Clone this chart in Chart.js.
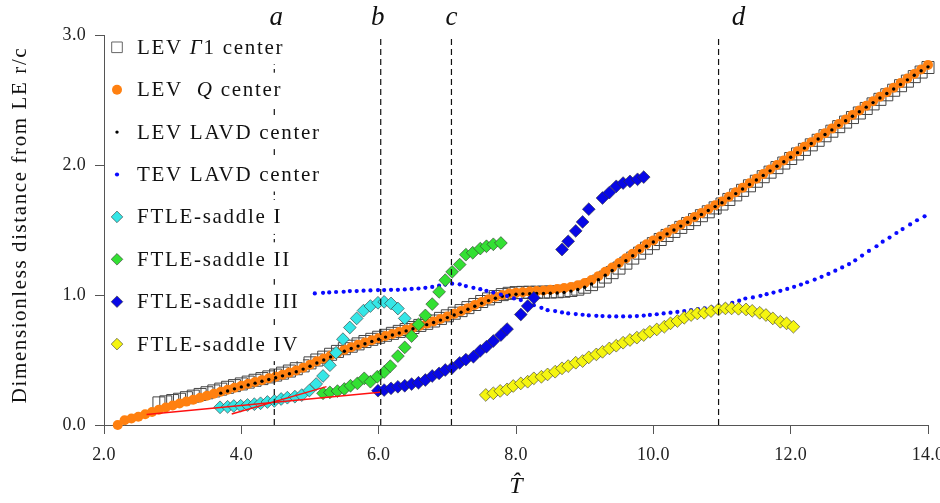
<!DOCTYPE html>
<html><head><meta charset="utf-8">
<script src="https://cdn.jsdelivr.net/npm/chart.js@4.4.1/dist/chart.umd.min.js"></script>
<style>html,body{margin:0;padding:0;background:#fff;}#wrap{width:940px;height:503px;position:relative;}</style>
</head><body><div id="wrap"><canvas id="c" width="940" height="503"></canvas></div>
<script>
// ---- shared time grid (T-hat) for the LEV centre series ----
const tGrid = [2.2,2.3,2.4,2.5,2.6,2.7,2.8,2.9,3.0,3.1,3.2,3.3,3.4,3.5,3.6,3.7,3.8,3.9,4.0,4.1,4.2,4.3,4.4,4.5,4.6,4.7,4.8,4.9,
5.0,5.1,5.2,5.3,5.4,5.5,5.6,5.7,5.8,5.9,6.0,6.1,6.2,6.3,6.4,6.5,6.6,6.7,6.8,6.9,7.0,7.1,7.2,7.3,7.4,7.5,7.6,7.7,7.8,7.9,
8.0,8.1,8.2,8.3,8.4,8.5,8.6,8.7,8.8,8.9,9.0,9.1,9.2,9.3,9.4,9.5,9.6,9.7,9.8,9.9,10.0,10.1,10.2,10.3,10.4,10.5,10.6,10.7,10.8,10.9,
11.0,11.1,11.2,11.3,11.4,11.5,11.6,11.7,11.8,11.9,12.0,12.1,12.2,12.3,12.4,12.5,12.6,12.7,12.8,12.9,13.0,13.1,13.2,13.3,13.4,13.5,13.6,13.7,13.8,13.9,14.0];

// LEV Gamma1 centre (open squares)
const gammaV = [null,null,null,null,null,null,0.170,0.178,0.188,0.198,0.210,0.222,0.235,0.248,0.262,0.276,0.290,0.303,0.316,0.330,0.344,0.357,0.370,0.384,0.399,0.415,0.433,0.455,
0.478,0.500,0.522,0.544,0.566,0.587,0.606,0.624,0.642,0.659,0.675,0.690,0.705,0.720,0.735,0.750,0.766,0.782,0.800,0.820,0.840,0.860,0.880,0.903,0.927,0.950,0.970,0.988,1.003,1.013,
1.018,1.020,1.021,1.021,1.022,1.023,1.025,1.029,1.035,1.045,1.060,1.080,1.107,1.138,1.172,1.207,1.245,1.284,1.322,1.360,1.395,1.427,1.458,1.489,1.520,1.550,1.580,1.610,1.640,1.670,
1.700,1.735,1.770,1.805,1.840,1.875,1.910,1.945,1.980,2.015,2.050,2.085,2.120,2.155,2.190,2.225,2.260,2.295,2.330,2.365,2.400,2.435,2.470,2.505,2.540,2.575,2.610,2.645,2.680,2.715,2.750];

// LEV Q centre (orange dots)
const qV = [0.000,0.036,0.050,0.064,0.083,0.100,0.118,0.134,0.150,0.165,0.180,0.195,0.210,0.225,0.240,0.256,0.272,0.287,0.302,0.317,0.331,0.345,0.359,0.372,0.387,0.403,0.420,0.440,
0.463,0.490,0.512,0.535,0.557,0.578,0.598,0.617,0.635,0.652,0.668,0.684,0.700,0.716,0.732,0.748,0.764,0.780,0.797,0.815,0.835,0.855,0.876,0.899,0.923,0.946,0.967,0.986,1.000,1.012,
1.018,1.022,1.026,1.030,1.035,1.040,1.046,1.053,1.062,1.075,1.092,1.115,1.145,1.178,1.212,1.246,1.282,1.318,1.354,1.390,1.420,1.450,1.480,1.510,1.540,1.570,1.600,1.630,1.660,1.690,
1.720,1.755,1.790,1.825,1.860,1.895,1.930,1.965,2.000,2.035,2.070,2.105,2.140,2.175,2.210,2.245,2.280,2.315,2.350,2.385,2.420,2.455,2.490,2.525,2.560,2.595,2.630,2.665,2.700,2.735,2.770];

// LEV LAVD centre (black dots)
const lavdV = [null,null,null,null,null,null,null,null,null,null,null,null,null,null,null,0.245,0.262,0.278,0.293,0.308,0.322,0.336,0.350,0.364,0.378,0.394,0.410,0.430,
0.452,0.477,0.500,0.524,0.546,0.567,0.588,0.607,0.625,0.643,0.660,0.676,0.692,0.708,0.724,0.740,0.756,0.772,0.789,0.807,0.826,0.846,0.867,0.890,0.913,0.936,0.957,0.975,0.990,1.000,
1.006,1.009,1.010,1.011,1.012,1.013,1.015,1.020,1.030,1.042,1.060,1.085,1.118,1.152,1.188,1.225,1.263,1.302,1.340,1.375,1.408,1.440,1.470,1.500,1.530,1.560,1.590,1.620,1.650,1.680,
1.710,1.745,1.780,1.815,1.850,1.885,1.920,1.955,1.990,2.025,2.060,2.095,2.130,2.165,2.200,2.235,2.270,2.305,2.340,2.375,2.410,2.445,2.480,2.515,2.550,2.585,2.620,2.655,2.690,2.725,2.755];

// TEV LAVD centre (small blue dots)
const tevT = [5.07,5.19,5.28,5.38,5.49,5.58,5.68,5.78,5.88,5.99,6.08,6.18,6.28,6.38,6.48,6.58,6.68,6.78,6.88,6.97,7.07,7.18,7.27,7.38,7.48,7.57,7.67,7.78,7.87,7.97,
8.07,8.17,8.26,8.37,8.46,8.57,8.67,8.76,8.87,8.97,9.06,9.17,9.26,9.36,9.46,9.56,9.66,9.76,9.86,9.95,10.05,10.15,10.25,10.35,10.45,10.55,10.65,10.75,10.85,10.95,
11.05,11.15,11.25,11.34,11.45,11.56,11.65,11.75,11.85,11.95,12.05,12.15,12.24,12.35,12.45,12.55,12.65,12.75,12.85,12.94,13.04,13.14,13.25,13.34,13.44,13.54,13.63,13.74,13.84,13.95];
const tevV = [1.012,1.017,1.020,1.023,1.025,1.030,1.030,1.033,1.035,1.038,1.038,1.040,1.040,1.043,1.047,1.050,1.055,1.062,1.072,1.080,1.087,1.082,1.069,1.055,1.045,1.032,1.019,1.004,0.992,0.974,
0.961,0.940,0.922,0.901,0.883,0.876,0.866,0.858,0.853,0.848,0.843,0.840,0.838,0.835,0.835,0.835,0.835,0.838,0.842,0.847,0.852,0.858,0.864,0.870,0.877,0.884,0.891,0.898,0.905,0.912,
0.925,0.940,0.956,0.973,0.981,0.994,1.006,1.019,1.032,1.047,1.063,1.080,1.098,1.119,1.140,1.162,1.187,1.212,1.238,1.267,1.303,1.339,1.375,1.410,1.442,1.477,1.507,1.543,1.575,1.605];

// FTLE saddles
const s1T = [3.69,3.80,3.89,3.99,4.09,4.19,4.28,4.38,4.48,4.58,4.67,4.78,4.88,4.99,5.09,5.19,5.29,5.38,5.48,5.58,5.68,5.78,5.88,5.99,6.08,6.18,6.28,6.38];
const s1V = [0.136,0.140,0.146,0.148,0.154,0.160,0.167,0.177,0.185,0.200,0.210,0.218,0.230,0.265,0.315,0.377,0.460,0.556,0.660,0.750,0.820,0.880,0.915,0.940,0.947,0.935,0.896,0.820];
const s2T = [5.19,5.29,5.40,5.50,5.59,5.69,5.79,5.88,5.98,6.08,6.17,6.28,6.38,6.48,6.58,6.68,6.78,6.88,6.97,7.07,7.18,7.27,7.37,7.48,7.57,7.67,7.78];
const s2V = [0.244,0.251,0.261,0.277,0.302,0.320,0.359,0.333,0.371,0.407,0.453,0.530,0.597,0.684,0.773,0.843,0.930,1.024,1.114,1.178,1.234,1.310,1.325,1.357,1.375,1.390,1.400];
const s3T = [5.99,6.08,6.18,6.28,6.38,6.48,6.58,6.68,6.78,6.88,6.97,7.07,7.18,7.27,7.38,7.48,7.57,7.67,7.78,7.87,8.07,8.17,8.26,8.67,8.76,8.87,8.97,9.06,9.26,9.36,9.46,9.56,9.66,9.77,9.86];
const s3V = [0.264,0.269,0.282,0.294,0.302,0.315,0.325,0.346,0.377,0.397,0.423,0.440,0.478,0.503,0.525,0.571,0.602,0.646,0.692,0.738,0.850,0.915,0.978,1.350,1.413,1.493,1.562,1.660,1.746,1.788,1.836,1.861,1.874,1.890,1.907];
const s4T = [7.56,7.67,7.77,7.87,7.96,8.07,8.17,8.26,8.37,8.46,8.57,8.67,8.76,8.87,8.97,9.06,9.17,9.26,9.36,9.46,9.56,9.66,9.76,9.86,9.95,10.05,10.16,10.25,10.35,10.45,10.55,10.64,10.74,10.84,10.95,11.05,11.14,11.24,11.35,11.44,11.55,11.64,11.74,11.85,11.94,12.04];
const s4V = [0.231,0.244,0.262,0.274,0.300,0.320,0.333,0.359,0.371,0.389,0.410,0.436,0.453,0.479,0.492,0.520,0.543,0.563,0.589,0.610,0.633,0.654,0.672,0.692,0.717,0.735,0.756,0.782,0.800,0.825,0.846,0.858,0.863,0.876,0.889,0.897,0.897,0.894,0.889,0.878,0.863,0.846,0.820,0.794,0.782,0.756];

// red tangent lines
const red1T = [2.62, 6.02], red1V = [0.080, 0.252];
const red2T = [3.86, 5.24], red2V = [0.085, 0.295];

// event instants a-d
const eventT = [4.48, 6.03, 7.06, 10.95];
const eventNames = ['a', 'b', 'c', 'd'];
const eventRange = [0, 3];

const xTicks = [2, 4, 6, 8, 10, 12, 14];
const yTicks = [0, 1, 2, 3];

const legendNames = [
  [['LEV ', 0], ['\u0393', 1], ['1 center', 0]],
  [['LEV  ', 0], ['Q', 1], [' center', 0]],
  [['LEV LAVD center', 0]],
  [['TEV LAVD center', 0]],
  [['FTLE-saddle I', 0]],
  [['FTLE-saddle II', 0]],
  [['FTLE-saddle III', 0]],
  [['FTLE-saddle IV', 0]]
];

function pts(xs, ys) {
  const out = [];
  xs.forEach((x, i) => { if (ys[i] !== null && ys[i] !== undefined) out.push({x: x, y: ys[i]}); });
  return out;
}

const SERIF = '"Liberation Serif", "DejaVu Serif", serif';
const styles = [
  {pointStyle: 'rect', radius: 8.5, backgroundColor: 'rgba(0,0,0,0)', borderColor: '#444', borderWidth: 1},
  {pointStyle: 'circle', radius: 5, backgroundColor: '#ff8010', borderColor: '#ff8010', borderWidth: 0},
  {pointStyle: 'circle', radius: 1.7, backgroundColor: '#000', borderColor: '#000', borderWidth: 0},
  {pointStyle: 'circle', radius: 2.1, backgroundColor: '#0a0aff', borderColor: '#0a0aff', borderWidth: 0},
  {pointStyle: 'rectRot', radius: 6.4, backgroundColor: '#35e6e6', borderColor: '#333', borderWidth: 0.6},
  {pointStyle: 'rectRot', radius: 6.4, backgroundColor: '#33e033', borderColor: '#333', borderWidth: 0.6},
  {pointStyle: 'rectRot', radius: 6.4, backgroundColor: '#0808e6', borderColor: '#333', borderWidth: 0.6},
  {pointStyle: 'rectRot', radius: 6.4, backgroundColor: '#f5f510', borderColor: '#333', borderWidth: 0.6}
];
const seriesData = [
  pts(tGrid, gammaV), pts(tGrid, qV), pts(tGrid, lavdV), pts(tevT, tevV),
  pts(s1T, s1V), pts(s2T, s2V), pts(s3T, s3V), pts(s4T, s4V)
];
const drawOrder = [12, 11, 10, 9, 8, 7, 6, 5];

const datasets = seriesData.map((d, i) => ({
  data: d, showLine: false, clip: false, order: drawOrder[i],
  pointStyle: styles[i].pointStyle, pointRadius: styles[i].radius,
  pointBackgroundColor: styles[i].backgroundColor, pointBorderColor: styles[i].borderColor,
  pointBorderWidth: styles[i].borderWidth
}));
datasets.push({data: pts(red1T, red1V), showLine: true, pointRadius: 0, borderColor: '#ff1010', borderWidth: 1.5, clip: false, order: 2});
datasets.push({data: pts(red2T, red2V), showLine: true, pointRadius: 0, borderColor: '#ff1010', borderWidth: 1.5, clip: false, order: 2});
eventT.forEach(t => {
  datasets.push({data: pts([t, t], eventRange), showLine: true, pointRadius: 0, borderColor: '#111', borderWidth: 1.2, borderDash: [6, 4], clip: false, order: 1});
});

const overlay = {
  id: 'overlay',
  beforeDraw(chart) { chart.ctx.letterSpacing = '0.3px'; },
  afterDraw(chart) {
    const ctx = chart.ctx, xs = chart.scales.x;
    ctx.save();
    ctx.fillStyle = '#111';
    // event labels
    ctx.font = 'italic 27px ' + SERIF;
    ctx.textAlign = 'center'; ctx.textBaseline = 'alphabetic';
    ctx.letterSpacing = '0px';
    const lblShift = [2, -3, 0, 20];
    eventT.forEach((t, i) => ctx.fillText(eventNames[i], xs.getPixelForValue(t) + lblShift[i], 25));
    // axis titles
    ctx.font = 'italic 24px ' + SERIF;
    ctx.textBaseline = 'middle';
    ctx.fillText('T\u0302', (chart.chartArea.left + chart.chartArea.right) / 2, 487);
    ctx.save();
    ctx.translate(20, 225);
    ctx.rotate(-Math.PI / 2);
    ctx.font = '21px ' + SERIF;
    ctx.letterSpacing = '1.6px';
    ctx.fillText('Dimensionless distance from LE r/c', 0, 0);
    ctx.restore();
    // legend
    const mx = 117, tx = 137, y0 = 47.3, dy = 42.4;
    ctx.textAlign = 'left';
    ctx.letterSpacing = '1.7px';
    legendNames.forEach((parts, i) => {
      const y = y0 + i * dy;
      let w = 0;
      parts.forEach(p => { ctx.font = (p[1] ? 'italic ' : '') + '21px ' + SERIF; w += ctx.measureText(p[0]).width; });
      ctx.fillStyle = '#fff';
      ctx.fillRect(107, y - 17, tx + w - 107 + 4, 34);
      const st = styles[i];
      ctx.fillStyle = st.backgroundColor; ctx.strokeStyle = i === 0 ? '#666' : st.borderColor;
      ctx.lineWidth = st.borderWidth;
      const r = i === 0 ? 7.5 : (i === 1 ? 5 : (i >= 4 ? 5.8 : st.radius));
      Chart.helpers.drawPoint(ctx, {pointStyle: st.pointStyle, radius: r, rotation: 0, borderWidth: st.borderWidth}, mx, y);
      ctx.fillStyle = '#111';
      let x = tx;
      parts.forEach(p => {
        ctx.font = (p[1] ? 'italic ' : '') + '21px ' + SERIF;
        ctx.fillText(p[0], x, y + 1);
        x += ctx.measureText(p[0]).width;
      });
    });
    ctx.restore();
  }
};

new Chart(document.getElementById('c'), {
  type: 'scatter',
  data: {datasets: datasets},
  options: {
    responsive: false, animation: false, events: [],
    layout: {padding: {top: 35, right: 12, left: 0, bottom: 0}},
    plugins: {legend: {display: false}, tooltip: {enabled: false}},
    scales: {
      x: {
        type: 'linear', min: 2, max: 14,
        afterBuildTicks: s => { s.ticks = xTicks.map(v => ({value: v})); },
        afterFit: s => { s.height = 78; s.paddingLeft = 0; s.paddingRight = 0; },
        ticks: {callback: v => v.toFixed(1), font: {family: SERIF, size: 18}, color: '#222', padding: 10, maxRotation: 0, autoSkip: false},
        grid: {drawOnChartArea: false, drawTicks: true, tickLength: 9, color: '#555', lineWidth: 1},
        border: {display: true, color: '#555', width: 1}
      },
      y: {
        type: 'linear', min: 0, max: 3,
        afterBuildTicks: s => { s.ticks = yTicks.map(v => ({value: v})); },
        afterFit: s => { s.width = 104; s.paddingTop = 0; s.paddingBottom = 0; },
        ticks: {callback: v => v.toFixed(1), font: {family: SERIF, size: 18}, color: '#222', padding: 9, autoSkip: false},
        grid: {drawOnChartArea: false, drawTicks: true, tickLength: 9, color: '#555', lineWidth: 1},
        border: {display: true, color: '#555', width: 1}
      }
    }
  },
  plugins: [overlay]
});
</script>
</body></html>
